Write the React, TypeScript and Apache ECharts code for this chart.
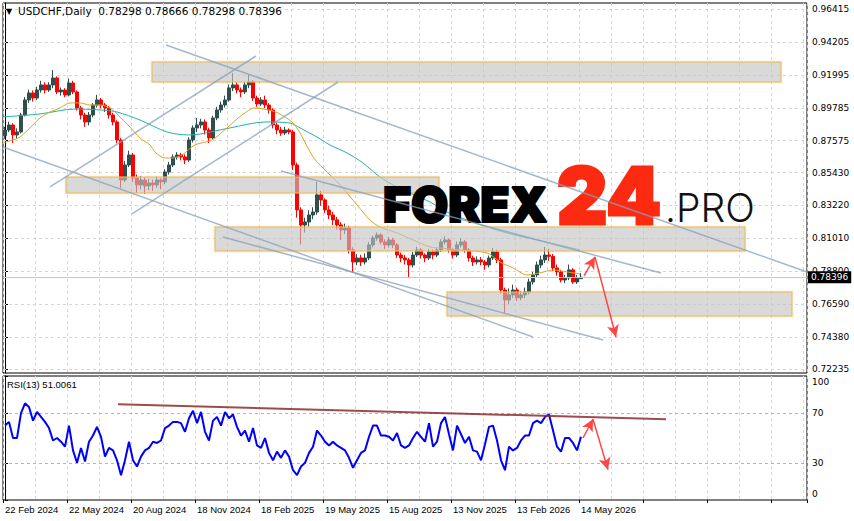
import React, { useEffect, useRef } from "react";
import * as echarts from "echarts";

// ---------- data ----------
const SLOTS = 201; // bar slots across the price panel
const LABEL_STEP = 16;
const dateLabels = ["22 Feb 2024", "22 May 2024", "20 Aug 2024", "18 Nov 2024", "18 Feb 2025", "19 May 2025", "15 Aug 2025", "13 Nov 2025", "13 Feb 2026", "14 May 2026"];
const priceTicks = [0.96415, 0.94205, 0.91995, 0.89785, 0.87575, 0.8543, 0.8322, 0.8101, 0.788, 0.7659, 0.7438, 0.72235];
const PRICE_MIN = 0.7196;
const PRICE_MAX = 0.96826;
const lastBar = [0.78298, 0.78666, 0.78298, 0.78396]; // O H L C
const rsiLast = "51.0061";

// candles in pips (price x 10000): [open, close, low, high]
const candlesPips = [
  [8790, 8829, 8770, 8850], [8829, 8863, 8815, 8885], [8863, 8796, 8742, 8875], [8796, 8816, 8770, 8840],
  [8816, 8930, 8805, 8945], [8930, 9031, 8920, 9050], [9031, 9078, 9010, 9100], [9078, 9044, 9020, 9095],
  [9044, 9098, 9030, 9120], [9098, 9132, 9080, 9160], [9132, 9098, 9075, 9150], [9098, 9132, 9085, 9150],
  [9132, 9179, 9110, 9232], [9179, 9085, 9070, 9190], [9085, 9098, 9060, 9115], [9098, 9065, 9050, 9110],
  [9065, 9145, 9055, 9175], [9145, 9085, 9070, 9160], [9085, 8977, 8960, 9095], [8977, 8930, 8900, 8990],
  [8930, 8883, 8850, 8945], [8883, 8930, 8860, 8950], [8930, 8997, 8915, 9010], [8997, 9031, 8980, 9065],
  [9031, 8997, 8975, 9045], [8997, 8977, 8950, 9010], [8977, 8930, 8905, 8990], [8930, 8883, 8860, 8945],
  [8883, 8762, 8740, 8895], [8762, 8493, 8440, 8775], [8493, 8594, 8480, 8620], [8594, 8661, 8580, 8690],
  [8661, 8507, 8480, 8675], [8507, 8460, 8406, 8530], [8460, 8493, 8430, 8520], [8493, 8453, 8400, 8510],
  [8453, 8473, 8425, 8500], [8473, 8460, 8420, 8495], [8460, 8493, 8440, 8515], [8493, 8480, 8430, 8505],
  [8480, 8547, 8465, 8565], [8547, 8594, 8530, 8615], [8594, 8648, 8580, 8665], [8648, 8661, 8630, 8680],
  [8661, 8648, 8625, 8675], [8648, 8628, 8600, 8665], [8628, 8762, 8615, 8780], [8762, 8843, 8745, 8860],
  [8843, 8863, 8815, 8910], [8863, 8883, 8840, 8905], [8883, 8829, 8800, 8900], [8829, 8776, 8742, 8845],
  [8776, 8910, 8765, 8925], [8910, 8964, 8895, 8985], [8964, 8997, 8945, 9020], [8997, 9031, 8980, 9060],
  [9031, 9112, 9020, 9135], [9112, 9132, 9090, 9212], [9132, 9098, 9075, 9150], [9098, 9085, 9050, 9115],
  [9085, 9132, 9070, 9150], [9132, 9152, 9110, 9199], [9152, 9044, 9025, 9165], [9044, 9004, 8985, 9060],
  [9004, 9031, 8990, 9050], [9031, 8997, 8975, 9060], [8997, 8964, 8940, 9010], [8964, 8863, 8840, 8975],
  [8863, 8829, 8800, 8880], [8829, 8809, 8790, 8850], [8809, 8829, 8795, 8850], [8829, 8816, 8800, 8840],
  [8816, 8594, 8560, 8830], [8594, 8292, 8240, 8610], [8292, 8191, 8060, 8310], [8191, 8211, 8140, 8240],
  [8211, 8258, 8180, 8290], [8258, 8278, 8230, 8310], [8278, 8393, 8260, 8480], [8393, 8359, 8320, 8420],
  [8359, 8292, 8270, 8370], [8292, 8258, 8230, 8320], [8258, 8225, 8190, 8280], [8225, 8191, 8160, 8245],
  [8191, 8157, 8090, 8210], [8157, 8171, 8130, 8200], [8171, 8023, 8000, 8185], [8023, 7942, 7868, 8040],
  [7942, 7969, 7920, 7995], [7969, 7942, 7915, 7990], [7942, 7969, 7925, 8000], [7969, 8057, 7955, 8075],
  [8057, 8104, 8040, 8120], [8104, 8124, 8085, 8140], [8124, 8077, 8060, 8135], [8077, 8057, 8030, 8095],
  [8057, 8090, 8040, 8110], [8090, 8057, 8035, 8105], [8057, 7989, 7970, 8070], [7989, 7969, 7940, 8005],
  [7969, 7956, 7925, 7990], [7956, 7922, 7841, 7970], [7922, 7989, 7905, 8010], [7989, 8023, 7975, 8045],
  [8023, 7989, 7965, 8035], [7989, 7969, 7940, 8000], [7969, 8010, 7955, 8030], [8010, 7989, 7960, 8025],
  [7989, 8023, 7975, 8040], [8023, 8077, 8010, 8095], [8077, 8090, 8060, 8115], [8090, 8023, 8005, 8100],
  [8023, 7989, 7965, 8035], [7989, 8057, 7975, 8080], [8057, 8077, 8040, 8100], [8077, 8023, 8005, 8090],
  [8023, 7969, 7945, 8035], [7969, 7942, 7915, 7985], [7942, 7956, 7925, 7980], [7956, 7942, 7920, 7975],
  [7942, 7922, 7890, 7955], [7922, 7969, 7905, 7985], [7969, 8010, 7955, 8036], [8010, 7956, 7935, 8025],
  [7956, 7754, 7730, 7970], [7754, 7687, 7600, 7770], [7687, 7721, 7660, 7765], [7721, 7754, 7700, 7790],
  [7754, 7701, 7680, 7770], [7701, 7721, 7685, 7745], [7721, 7741, 7700, 7770], [7741, 7808, 7725, 7830],
  [7808, 7855, 7790, 7875], [7855, 7922, 7840, 7945], [7922, 7956, 7900, 7985], [7956, 7989, 7935, 8043],
  [7989, 7980, 7950, 8030], [7980, 7902, 7880, 7995], [7902, 7875, 7850, 7925], [7875, 7821, 7805, 7890],
  [7821, 7835, 7800, 7855], [7835, 7889, 7820, 7925], [7889, 7808, 7795, 7900], [7808, 7835, 7795, 7855],
  [7830, 7840, 7830, 7867],
];

// moving averages: [bar index, price]
const maTeal = [
  [-0.5, 0.8917], [8.75, 0.8937], [17.5, 0.897], [23.75, 0.8964], [28, 0.895], [33.75, 0.8896],
  [40.5, 0.8816], [45.75, 0.8796], [48.75, 0.8802], [56.25, 0.8843], [65, 0.8883], [71.25, 0.8876],
  [73.75, 0.8843], [78, 0.8782], [81.25, 0.8728], [85.5, 0.8675], [89.5, 0.8607], [93.75, 0.8513],
  [98, 0.8446], [106.25, 0.8345], [110.5, 0.8278], [115.5, 0.8224], [125.5, 0.8137], [136.25, 0.807],
  [143.75, 0.8023],
];
const maOrange = [
  [-0.5, 0.8742], [2, 0.8762], [3.75, 0.8782], [6.25, 0.8843], [8.75, 0.891], [11.25, 0.895],
  [13.75, 0.8977], [16.25, 0.9011], [18.75, 0.9011], [21.25, 0.8997], [23.75, 0.8997], [26.25, 0.8977],
  [28.75, 0.8917], [31.25, 0.8849], [33.75, 0.8776], [36.25, 0.8729], [37.5, 0.8681], [40, 0.8641],
  [41.75, 0.8641], [44.25, 0.8661], [47.5, 0.8729], [51.75, 0.8762], [55.75, 0.8849], [59.25, 0.893],
  [62.5, 0.8977], [65.75, 0.8964], [68.25, 0.8943], [71.75, 0.8883], [73.75, 0.8809], [77, 0.8648],
  [79.5, 0.8574], [83.75, 0.846], [88, 0.8325], [91.25, 0.8224], [93.75, 0.8177], [98, 0.8137],
  [102, 0.809], [106.25, 0.8043], [108.75, 0.8036], [113.75, 0.8023], [120.5, 0.8003], [123.75, 0.7942],
  [127, 0.7902], [130.5, 0.7855], [133.75, 0.7869], [137, 0.7888], [140.5, 0.7875], [143.75, 0.7862],
];

const rsiValues = [
  60, 63, 50, 50, 70, 78, 75, 64, 71, 67,
  63, 58, 48, 50, 47, 43, 60, 40, 30, 42,
  31, 47, 52, 59, 51, 35, 42, 40, 32, 20,
  32, 47, 32, 27, 35, 40, 42, 47, 46, 48,
  58, 60, 63, 63, 62, 55, 66, 72, 62, 71,
  55, 48, 64, 67, 60, 71, 66, 69, 59, 52,
  56, 47, 58, 44, 42, 50, 38, 32, 39, 34,
  40, 35, 24, 20, 27, 30, 38, 43, 56, 52,
  47, 44, 47, 44, 42, 40, 34, 26, 32, 38,
  40, 51, 60, 60, 52, 52, 51, 48, 54, 44,
  42, 44, 50, 55, 51, 47, 62, 43, 47, 62,
  67, 53, 40, 60, 53, 46, 51, 40, 39, 32,
  45, 59, 60, 48, 32, 24, 43, 40, 42, 48,
  52, 52, 62, 64, 62, 67, 69, 56, 43, 39,
  50, 50, 46, 40, 51,
];
const rsiTicks = [0, 30, 70, 100];
const rsiLevels = [70, 30];

// annotations in [bar index, price] terms
const zones = [
  [36.75, 0.92861, 194, 0.91517],
  [15.25, 0.85133, 108.5, 0.84052],
  [52.5, 0.81773, 185, 0.8016],
  [110.5, 0.77405, 196.75, 0.75792],
];
const trendLines = [
  [40.25, 0.94004, 200.5, 0.78749],
  [69, 0.85536, 164, 0.78682],
  [-0.5, 0.87149, 132, 0.74381],
  [54.5, 0.81101, 149.5, 0.74179],
  [11.25, 0.84461, 62.75, 0.93264],
  [31.75, 0.82647, 83.25, 0.91517],
];
const priceArrows = [
  [144.75, 0.7848, 147.5, 0.79757],
  [147.5, 0.79757, 152.75, 0.74381],
];
const rsiTrend = [[28.25, 77.2, 165.25, 65.2]];
const rsiArrows = [
  [144.5, 50, 147, 65.2],
  [147, 65.2, 150.75, 24.4],
];

const seg = (l: number[][]) => l.map((t) => [{ coord: [t[0], t[1]] }, { coord: [t[2], t[3]] }]);

export default function App() {
  const ref = useRef<HTMLDivElement>(null);
  useEffect(() => {
    const chart = echarts.init(ref.current!, null, { renderer: "svg" });
    const cats = Array.from({ length: SLOTS }, (_, i) => String(i));
    const candles = candlesPips.map((r) => r.map((v) => v / 10000));
    const gridDash = { color: "#d6d6d6", type: [3, 3] as any, width: 1 };
    const catAxisBase = {
      type: "category",
      data: cats,
      boundaryGap: true,
      axisLine: { show: false },
      splitLine: { show: true, interval: 7, lineStyle: gridDash },
    };
    const option: any = {
      animation: false,
      backgroundColor: "#fff",
      textStyle: { fontFamily: "Liberation Sans" },
      grid: [
        { left: 3, right: 47, top: 3, height: 370, show: true, borderColor: "#000", borderWidth: 1, containLabel: false, outerBoundsMode: "none" },
        { left: 3, right: 47, top: 376, height: 124, show: true, borderColor: "#000", borderWidth: 1, containLabel: false, outerBoundsMode: "none" },
      ],
      xAxis: [
        { ...catAxisBase, gridIndex: 0, axisTick: { show: false }, axisLabel: { show: false } },
        { type: "value", gridIndex: 0, min: -0.5, max: SLOTS - 0.5, show: false },
        {
          ...catAxisBase,
          gridIndex: 1,
          axisTick: { show: true, interval: LABEL_STEP - 1, length: 3, lineStyle: { color: "#000" } },
          axisLabel: {
            interval: LABEL_STEP - 1,
            align: "left",
            margin: 4,
            fontSize: 9.5,
            fontFamily: "Liberation Sans",
            color: "#000",
            formatter: (_v: string, idx: number) => dateLabels[idx / LABEL_STEP] ?? "",
          },
        },
        { type: "value", gridIndex: 1, min: -0.5, max: SLOTS - 0.5, show: false },
      ],
      yAxis: [
        {
          type: "value",
          gridIndex: 0,
          position: "right",
          min: PRICE_MIN,
          max: PRICE_MAX,
          axisLine: { show: true, lineStyle: { color: "#000" } },
          axisTick: { show: true, customValues: priceTicks, length: 3, lineStyle: { color: "#000" } },
          axisLabel: {
            customValues: priceTicks,
            formatter: (v: number) => v.toFixed(5),
            color: "#000",
            fontSize: 9,
            fontFamily: "DejaVu Sans",
            margin: 5,
          },
          splitLine: { show: false },
        },
        {
          type: "value",
          gridIndex: 1,
          position: "right",
          min: 0,
          max: 100,
          axisLine: { show: true, lineStyle: { color: "#000" } },
          axisTick: { show: true, customValues: rsiTicks, length: 3, lineStyle: { color: "#000" } },
          axisLabel: {
            customValues: rsiTicks,
            color: "#000",
            fontSize: 9,
            fontFamily: "DejaVu Sans",
            margin: 5,
            formatter: (v: number) => (v === 100 ? "{t|100}" : v === 0 ? "{b|0}" : String(v)),
            rich: { t: { padding: [12, 0, 0, 0] }, b: { padding: [0, 0, 12, 0] } },
          },
          splitLine: { show: false },
        },
      ],
      series: [
        {
          type: "line",
          xAxisIndex: 1,
          yAxisIndex: 0,
          data: [],
          markLine: {
            z: 1,
            silent: true,
            precision: 6,
            symbol: "none",
            label: { show: false },
            lineStyle: gridDash,
            data: priceTicks.map((v) => ({ yAxis: v })),
          },
        },
        {
          type: "candlestick",
          xAxisIndex: 0,
          yAxisIndex: 0,
          z: 2,
          barWidth: 3,
          data: candles,
          itemStyle: { color: "#2f4f4f", color0: "#ff0000", borderColor: "#2f4f4f", borderColor0: "#ff0000", borderWidth: 1 },
        },
        {
          type: "line",
          xAxisIndex: 1,
          yAxisIndex: 0,
          z: 3,
          data: maTeal,
          smooth: 0.3,
          showSymbol: false,
          lineStyle: { color: "#20b2aa", width: 1 },
        },
        {
          type: "line",
          xAxisIndex: 1,
          yAxisIndex: 0,
          z: 3,
          data: maOrange,
          smooth: 0.3,
          showSymbol: false,
          lineStyle: { color: "#daa520", width: 1 },
        },
        {
          type: "line",
          xAxisIndex: 1,
          yAxisIndex: 0,
          data: [],
          markLine: {
            z: 3,
            silent: true,
            precision: 6,
            symbol: "none",
            lineStyle: { color: "#c8c8c8", type: "solid", width: 1 },
            label: {
              show: true,
              position: "end",
              distance: 1,
              formatter: lastBar[3].toFixed(5),
              backgroundColor: "#000",
              color: "#fff",
              fontSize: 9,
              fontFamily: "DejaVu Sans",
              padding: [2, 3, 1, 3],
            },
            data: [{ yAxis: lastBar[3] }],
          },
        },
        {
          type: "line",
          xAxisIndex: 1,
          yAxisIndex: 0,
          data: [],
          markArea: {
            z: 4,
            silent: true,
            itemStyle: {
              color: "rgba(200,200,200,0.6)",
              borderColor: "rgba(240,186,80,0.75)",
              borderWidth: 1.5,
              shadowBlur: 3,
              shadowColor: "rgba(0,0,0,0.12)",
            },
            data: zones.map((z) => [{ coord: [z[0], z[1]] }, { coord: [z[2], z[3]] }]),
          },
        },
        {
          type: "line",
          xAxisIndex: 1,
          yAxisIndex: 0,
          data: [],
          markLine: {
            z: 6,
            silent: true,
            symbol: "none",
            label: { show: false },
            lineStyle: { color: "rgba(135,160,185,0.75)", type: "solid", width: 1.5 },
            data: seg(trendLines),
          },
        },
        {
          type: "line",
          xAxisIndex: 1,
          yAxisIndex: 0,
          data: [],
          markLine: {
            z: 7,
            silent: true,
            symbol: ["none", "arrow"],
            symbolSize: [9, 12],
            label: { show: false },
            lineStyle: { color: "#ff4646", type: "solid", width: 1.5 },
            data: seg(priceArrows),
          },
        },
        // RSI panel
        {
          type: "line",
          xAxisIndex: 3,
          yAxisIndex: 1,
          data: [],
          markLine: {
            z: 1,
            silent: true,
            precision: 6,
            symbol: "none",
            label: { show: false },
            lineStyle: { color: "#b4b4b4", type: [3, 3], width: 1 },
            data: rsiLevels.map((v) => ({ yAxis: v })),
          },
        },
        {
          type: "line",
          xAxisIndex: 2,
          yAxisIndex: 1,
          z: 3,
          data: rsiValues,
          showSymbol: false,
          lineStyle: { color: "#0000ff", width: 2 },
        },
        {
          type: "line",
          xAxisIndex: 3,
          yAxisIndex: 1,
          data: [],
          markLine: {
            z: 6,
            silent: true,
            symbol: "none",
            label: { show: false },
            lineStyle: { color: "rgba(140,45,45,0.85)", type: "solid", width: 2 },
            data: seg(rsiTrend),
          },
        },
        {
          type: "line",
          xAxisIndex: 3,
          yAxisIndex: 1,
          data: [],
          markLine: {
            z: 7,
            silent: true,
            symbol: ["none", "arrow"],
            symbolSize: [9, 12],
            label: { show: false },
            lineStyle: { color: "#ff4646", type: "solid", width: 1.5 },
            data: seg(rsiArrows),
          },
        },
      ],
      graphic: [
        { type: "text", z: 10, x: 6, y: 11, style: { text: "▼", fontSize: 8, fontFamily: "DejaVu Sans", fill: "#000", verticalAlign: "middle" } },
        {
          type: "text",
          z: 10,
          x: 18,
          y: 11,
          style: {
            text: `USDCHF,Daily  ${lastBar.map((v) => v.toFixed(5)).join(" ")}`,
            fontSize: 10.5,
            fontFamily: "DejaVu Sans",
            fill: "#000",
            verticalAlign: "middle",
          },
        },
        {
          type: "text",
          z: 10,
          x: 7,
          y: 384,
          style: { text: `RSI(13) ${rsiLast}`, fontSize: 9.5, fontFamily: "Liberation Sans", fill: "#000", verticalAlign: "middle" },
        },
        {
          type: "text",
          z: 5,
          x: 383,
          y: 204,
          style: { text: "FOREX", fontSize: 48, fontWeight: 900, fontFamily: "Inter", fill: "#000", stroke: "#000", lineWidth: 2, verticalAlign: "middle" },
        },
        {
          type: "text",
          z: 5,
          x: 557,
          y: 195,
          style: { text: "24", fontSize: 78, fontWeight: 900, fontFamily: "Inter", fill: "#fc2a10", stroke: "#fc2a10", lineWidth: 3, verticalAlign: "middle" },
        },
        {
          type: "text",
          z: 5,
          x: 665,
          y: 207,
          style: { text: ".PRO", fontSize: 39, fontWeight: 300, fontFamily: "Inter", fill: "#111", verticalAlign: "middle" },
        },
      ],
    };
    chart.setOption(option);
    return () => chart.dispose();
  }, []);
  return <div ref={ref} style={{ position: "fixed", left: 0, top: 0, width: 854, height: 521, background: "#fff" }} />;
}
